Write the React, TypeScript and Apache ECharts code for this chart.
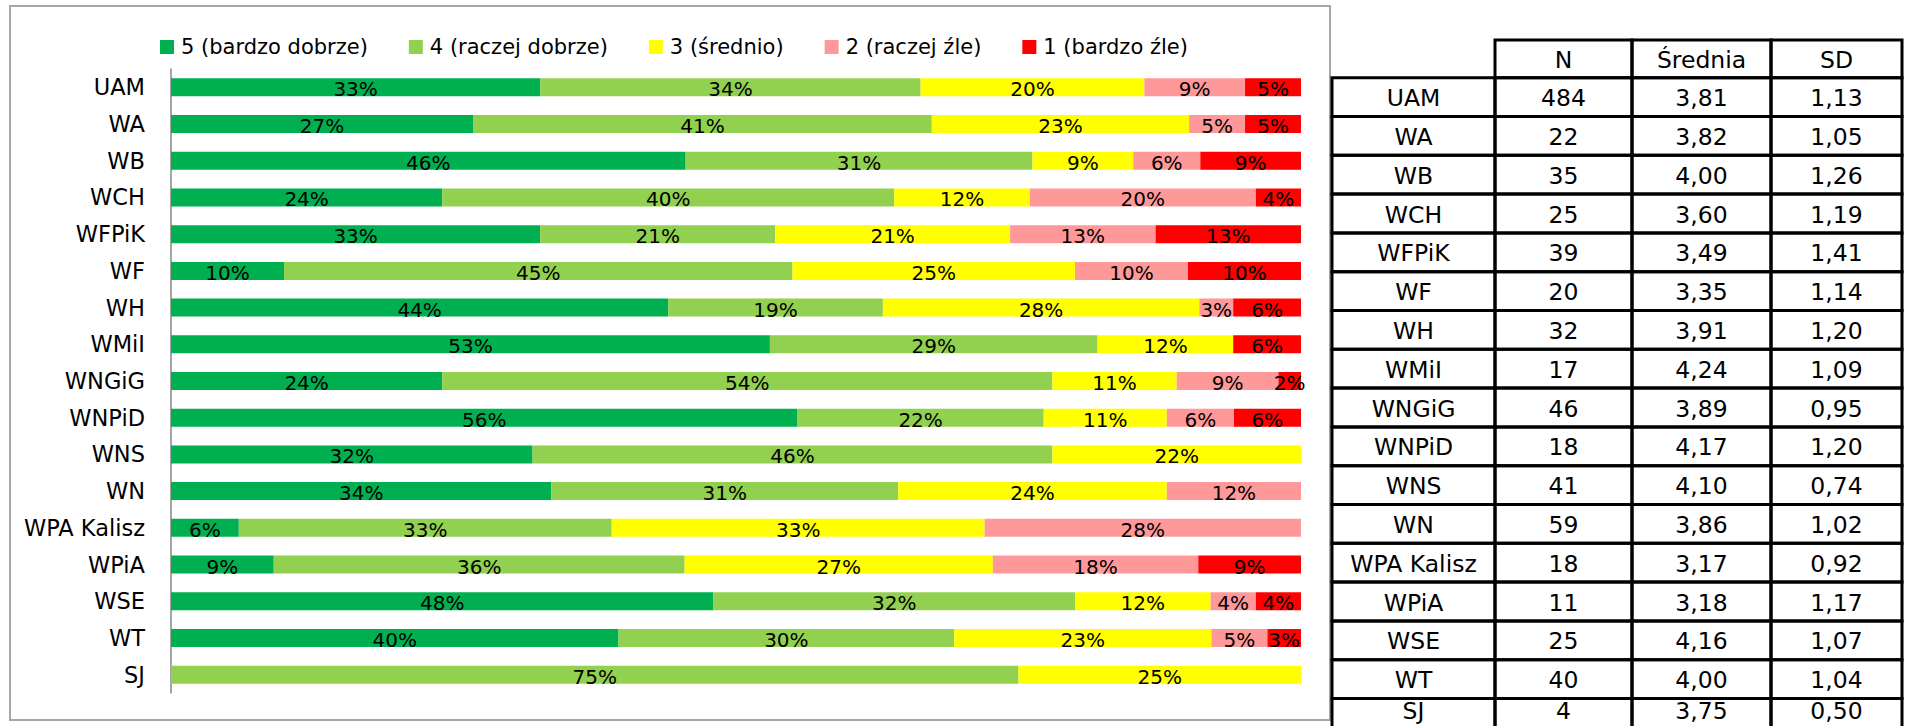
import { useEffect, useRef } from 'react';
import * as echarts from 'echarts';

const categories = ['UAM', 'WA', 'WB', 'WCH', 'WFPiK', 'WF', 'WH', 'WMiI', 'WNGiG', 'WNPiD', 'WNS', 'WN', 'WPA Kalisz', 'WPiA', 'WSE', 'WT', 'SJ'];
const seriesNames = ['5 (bardzo dobrze)', '4 (raczej dobrze)', '3 (średnio)', '2 (raczej źle)', '1 (bardzo źle)'];
const pct5 = [33, 27, 46, 24, 33, 10, 44, 53, 24, 56, 32, 34, 6, 9, 48, 40, 0];
const pct4 = [34, 41, 31, 40, 21, 45, 19, 29, 54, 22, 46, 31, 33, 36, 32, 30, 75];
const pct3 = [20, 23, 9, 12, 21, 25, 28, 12, 11, 11, 22, 24, 33, 27, 12, 23, 25];
const pct2 = [9, 5, 6, 20, 13, 10, 3, 0, 9, 6, 0, 12, 28, 18, 4, 5, 0];
const pct1 = [5, 5, 9, 4, 13, 10, 6, 6, 2, 6, 0, 0, 0, 9, 4, 3, 0];
const colors = ['#00B050', '#92D050', '#FFFF00', '#FF9999', '#FF0000'];

const tableHeaders = ['N', 'Średnia', 'SD'];
const nValues = [484, 22, 35, 25, 39, 20, 32, 17, 46, 18, 41, 59, 18, 11, 25, 40, 4];
const means = [3.81, 3.82, 4.0, 3.6, 3.49, 3.35, 3.91, 4.24, 3.89, 4.17, 4.1, 3.86, 3.17, 3.18, 4.16, 4.0, 3.75];
const sds = [1.13, 1.05, 1.26, 1.19, 1.41, 1.14, 1.2, 1.09, 0.95, 1.2, 0.74, 1.02, 0.92, 1.17, 1.07, 1.04, 0.5];

const FONT = '"DejaVu Sans", sans-serif';

export default function App() {
  const ref = useRef<HTMLDivElement>(null);
  useEffect(() => {
    if (!ref.current) return;
    const chart = echarts.init(ref.current, undefined, { renderer: 'svg' });
    const all = [pct5, pct4, pct3, pct2, pct1];
    const rowSums = categories.map((_, r) => all.reduce((s, a) => s + a[r], 0));

    const series = all.map((arr, i) => ({
      name: seriesNames[i],
      type: 'bar',
      stack: 'total',
      barWidth: 18,
      itemStyle: { color: colors[i] },
      label: {
        show: true,
        position: 'inside',
        color: '#000',
        fontSize: 20,
        fontFamily: FONT,
        offset: [0, 2],
        formatter: (p: any) => (p.data && p.data.pct ? p.data.pct + '%' : ''),
      },
      data: arr.map((v, r) => (v === 0 ? { value: 0, pct: 0 } : { value: (v / rowSums[r]) * 100, pct: v })),
    }));

    // table
    const H = 726;
    const colX = [1332, 1495, 1632, 1771, 1902];
    const headTop = 40;
    const headH = 37.7;
    const rowH = 38.8;
    const tFont = 23.5;
    const graphics: any[] = [];
    graphics.push({
      type: 'rect',
      shape: { x: 10, y: 6, width: 1320, height: 714 },
      style: { fill: 'none', stroke: '#A6A6A6', lineWidth: 2 },
      silent: true,
    });
    const cellRect = (x: number, y: number, w: number, h: number) => ({
      type: 'rect',
      shape: { x, y, width: w, height: h },
      style: { fill: 'none', stroke: '#000', lineWidth: 3 },
      silent: true,
    });
    const cellText = (x: number, y: number, text: string) => ({
      type: 'text',
      x,
      y,
      style: { text, fill: '#000', fontSize: tFont, fontFamily: FONT, align: 'center', verticalAlign: 'middle' },
      silent: true,
    });
    tableHeaders.forEach((h, c) => {
      const x0 = colX[c + 1];
      const w = colX[c + 2] - x0;
      graphics.push(cellRect(x0, headTop, w, headH));
      graphics.push(cellText(x0 + w / 2, headTop + headH / 2 + 1, h));
    });
    const fmt = (v: number) => v.toFixed(2).replace('.', ',');
    categories.forEach((cat, r) => {
      const y0 = headTop + headH + r * rowH;
      const vals = [cat, String(nValues[r]), fmt(means[r]), fmt(sds[r])];
      const ty = Math.min(y0 + rowH / 2 + 1, H - tFont * 0.62);
      vals.forEach((t, c) => {
        const x0 = colX[c];
        const w = colX[c + 1] - x0;
        graphics.push(cellRect(x0, y0, w, rowH));
        graphics.push(cellText(x0 + w / 2, ty, t));
      });
    });

    chart.setOption({
      animation: false,
      backgroundColor: '#fff',
      legend: {
        left: 160,
        top: 35,
        padding: 0,
        icon: 'rect',
        itemWidth: 14,
        itemHeight: 14,
        itemGap: 41,
        textStyle: { fontSize: 21, fontFamily: FONT, color: '#000', lineHeight: 24, padding: [0, 0, 0, 2] },
        data: seriesNames,
      },
      grid: { left: 171, top: 69, width: 1130, height: 624, containLabel: false },
      xAxis: { type: 'value', min: 0, max: 100, show: false },
      yAxis: {
        type: 'category',
        inverse: true,
        data: categories,
        axisTick: { show: false },
        axisLine: { lineStyle: { color: '#868686', width: 1.5 } },
        axisLabel: { color: '#000', fontSize: 22.5, fontFamily: FONT, margin: 26 },
      },
      series,
      graphic: graphics,
    });
    return () => chart.dispose();
  }, []);
  return <div ref={ref} style={{ position: 'absolute', left: 0, top: 0, width: 1908, height: 726, background: '#fff' }} />;
}
